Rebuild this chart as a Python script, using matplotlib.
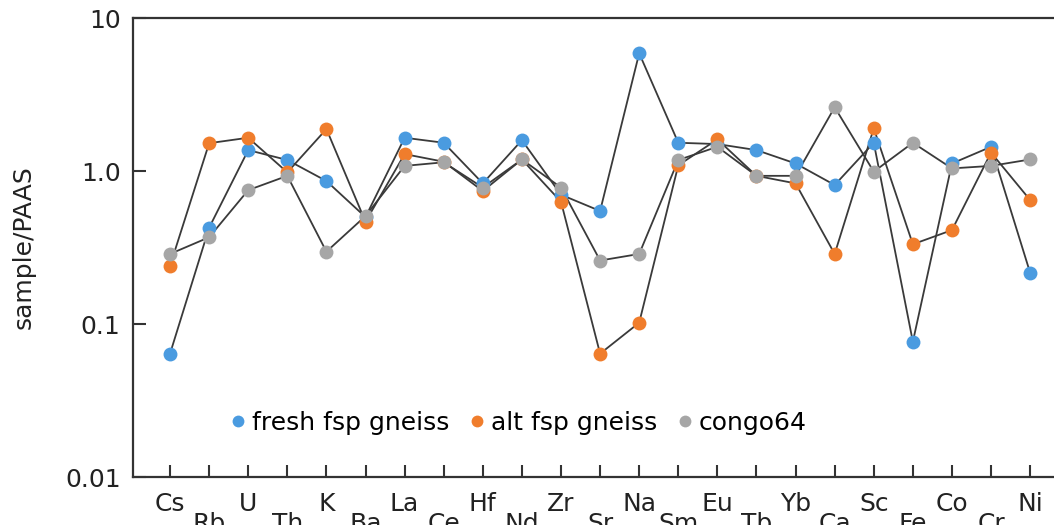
import numpy as np
import matplotlib.pyplot as plt

plt.rcParams['font.family'] = ['DejaVu Sans']

elements = ["Cs", "Rb", "U", "Th", "K", "Ba", "La", "Ce", "Hf", "Nd", "Zr", "Sr",
            "Na", "Sm", "Eu", "Tb", "Yb", "Ca", "Sc", "Fe", "Co", "Cr", "Ni"]

fresh = [0.064, 0.426, 1.37, 1.18, 0.86, 0.50, 1.65, 1.53, 0.83, 1.59, 0.70, 0.548,
         5.88, 1.53, 1.50, 1.37, 1.12, 0.81, 1.53, 0.0766, 1.12, 1.44, 0.216]
alt = [0.24, 1.52, 1.65, 0.98, 1.88, 0.466, 1.29, 1.15, 0.74, 1.19, 0.63, 0.064,
       0.102, 1.09, 1.61, 0.93, 0.83, 0.287, 1.90, 0.332, 0.411, 1.32, 0.646]
congo = [0.287, 0.369, 0.75, 0.93, 0.297, 0.508, 1.08, 1.14, 0.78, 1.19, 0.78, 0.26,
         0.287, 1.18, 1.44, 0.93, 0.93, 2.61, 0.99, 1.53, 1.04, 1.08, 1.19]

series = [("fresh fsp gneiss", fresh, "#4a9be0"),
          ("alt fsp gneiss", alt, "#f07d2c"),
          ("congo64", congo, "#a6a6a6")]

fig = plt.figure(figsize=(10.54, 5.25), dpi=100)
ax = fig.add_axes([0.1262, 0.0914, 0.8738, 0.8743])

x = np.arange(len(elements))
for name, vals, col in series:
    ax.plot(x, vals, color="#3a3a3a", lw=1.3, zorder=2)
for name, vals, col in series:
    ax.plot(x, vals, "o", color=col, ms=10, mec="none", zorder=3, label=name)

ax.set_yscale("log")
ax.set_ylim(0.01, 10)
ax.set_xlim(-0.947, 22.61)
ax.set_yticks([0.01, 0.1, 1, 10])
ax.set_yticklabels(["0.01", "0.1", "1.0", "10"])
ax.minorticks_off()
ax.set_xticks(x)
ax.set_xticklabels(elements)

ax.tick_params(axis="both", direction="in", length=9, width=1.5, color="#333333",
               labelsize=18, labelcolor="#222222")
ax.tick_params(axis="y", pad=9)
for i, t in enumerate(ax.xaxis.get_major_ticks()):
    t.set_pad(11 if i % 2 == 0 else 25)

for s in ["left", "top", "bottom"]:
    ax.spines[s].set_linewidth(1.6)
    ax.spines[s].set_color("#333333")
ax.spines["right"].set_visible(False)

ax.set_ylabel("sample/PAAS", fontsize=18, color="#222222")
ax.yaxis.set_label_coords(-0.106, 0.5)

ax.legend(loc="center", bbox_to_anchor=(0.42, 0.1176), ncol=3, frameon=False,
          fontsize=18, handlelength=0.4, handletextpad=0.35, columnspacing=0.9,
          borderpad=0.2, markerscale=0.85)

fig.savefig("out.png", dpi=100)
